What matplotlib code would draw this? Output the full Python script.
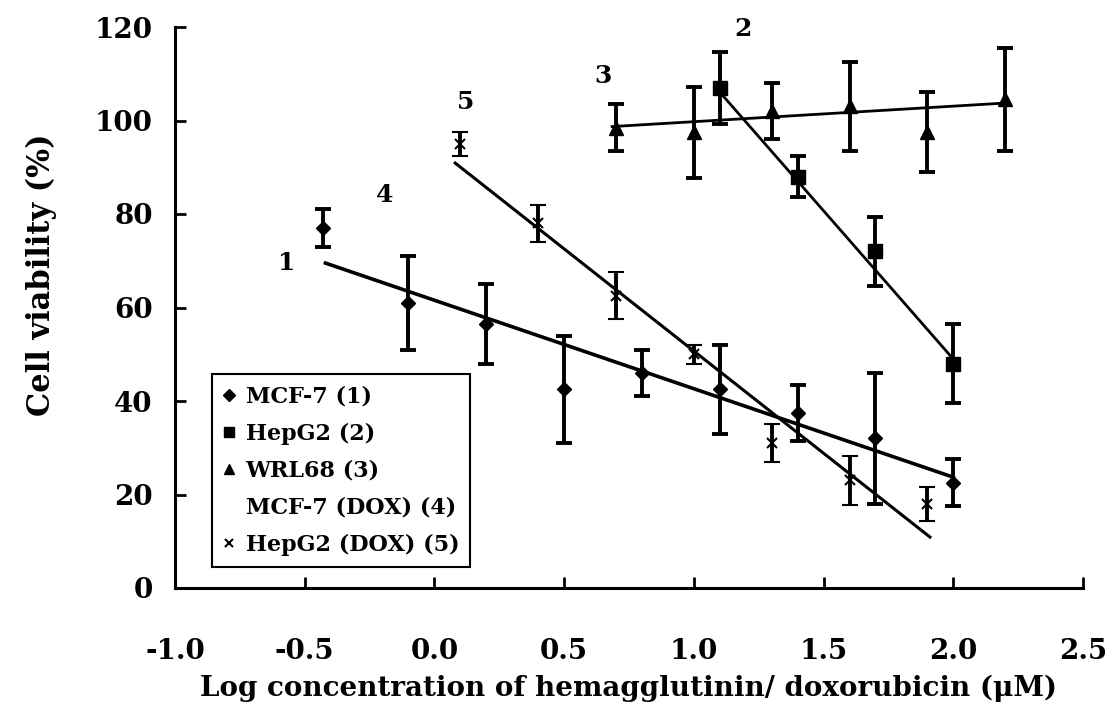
import numpy as np
import matplotlib.pyplot as plt
from matplotlib.lines import Line2D

plt.rcParams['font.family'] = ['DejaVu Serif']
plt.rcParams['font.weight'] = 'bold'

# MCF-7 (1)
mcf7_x = [-0.43, -0.1, 0.2, 0.5, 0.8, 1.1, 1.4, 1.7, 2.0]
mcf7_y = [77.0, 61.0, 56.5, 42.5, 46.0, 42.5, 37.5, 32.0, 22.5]
mcf7_err = [4.0, 10.0, 8.5, 11.5, 5.0, 9.5, 6.0, 14.0, 5.0]
fit1_x = [-0.42, 2.0]
fit1_y = [69.5, 23.7]

# HepG2 (2)
hepg2_x = [1.1, 1.4, 1.7, 2.0]
hepg2_y = [107.0, 88.0, 72.0, 48.0]
hepg2_err = [7.7, 4.3, 7.3, 8.5]
fit2_x = [1.09, 1.99]
fit2_y = [106.7, 49.6]

# WRL68 (3)
wrl_x = [0.7, 1.0, 1.3, 1.6, 1.9, 2.2]
wrl_y = [98.5, 97.5, 102.0, 103.0, 97.5, 104.5]
wrl_err = [5.0, 9.7, 6.0, 9.6, 8.5, 11.0]
fit3_x = [0.685, 2.19]
fit3_y = [98.7, 103.7]

# HepG2 (DOX) (5)
dox_x = [0.1, 0.4, 0.7, 1.0, 1.3, 1.6, 1.9]
dox_y = [95.0, 78.0, 62.5, 50.0, 31.0, 23.0, 18.0]
dox_err = [2.5, 4.0, 5.0, 2.0, 4.0, 5.3, 3.6]
fit5_x = [0.08, 1.91]
fit5_y = [90.9, 10.9]

# curve numbers
num_text = ['1', '2', '3', '4', '5']
num_x = [-0.57, 1.19, 0.65, -0.19, 0.12]
num_y = [69.5, 119.5, 109.5, 84.0, 104.0]

legend_labels = ['MCF-7 (1)', 'HepG2 (2)', 'WRL68 (3)', 'MCF-7 (DOX) (4)', 'HepG2 (DOX) (5)']

fig = plt.figure(figsize=(11.05, 7.07), dpi=100)
ax = fig.add_axes([175 / 1105, 1 - 588 / 707, 908 / 1105, 561 / 707])

eb = dict(color='black', ecolor='black', elinewidth=2.8, capsize=5.5, capthick=2.8, linestyle='none')
ax.errorbar(mcf7_x, mcf7_y, yerr=mcf7_err, marker='D', ms=7.5, **eb)
ax.errorbar(hepg2_x, hepg2_y, yerr=hepg2_err, marker='s', ms=9.5, **eb)
ax.errorbar(wrl_x, wrl_y, yerr=wrl_err, marker='^', ms=9.5, **eb)
ax.errorbar(dox_x, dox_y, yerr=dox_err, marker='x', ms=7, mew=1.5, **eb)

ax.plot(fit1_x, fit1_y, color='black', lw=2.6)
ax.plot(fit2_x, fit2_y, color='black', lw=2.0)
ax.plot(fit3_x, fit3_y, color='black', lw=2.0)
ax.plot(fit5_x, fit5_y, color='black', lw=2.2)

for t, x, y in zip(num_text, num_x, num_y):
    ax.text(x, y, t, fontsize=18, fontweight='bold', ha='center', va='center')

ax.set_xlim(-1.0, 2.5)
ax.set_ylim(0, 120)
ax.set_xticks(np.arange(-1.0, 2.51, 0.5))
ax.set_xticklabels(['-1.0', '-0.5', '0.0', '0.5', '1.0', '1.5', '2.0', '2.5'])
ax.set_yticks(np.arange(0, 121, 20))
ax.spines['top'].set_visible(False)
ax.spines['right'].set_visible(False)
for s in ['left', 'bottom']:
    ax.spines[s].set_linewidth(2.2)
ax.tick_params(direction='in', length=8, width=2, labelsize=20)
ax.tick_params(axis='x', pad=36)
ax.tick_params(axis='y', pad=16)

fig.text(628 / 1105, 1 - 688 / 707, 'Log concentration of hemagglutinin/ doxorubicin (\u03bcM)',
         fontsize=20, fontweight='bold', ha='center', va='center')
fig.text(41 / 1105, 1 - 275 / 707, 'Cell viability (%)', fontsize=22, fontweight='bold',
         ha='center', va='center', rotation=90)

handles = [
    Line2D([], [], color='black', marker='D', ms=6, ls='none'),
    Line2D([], [], color='black', marker='s', ms=7, ls='none'),
    Line2D([], [], color='black', marker='^', ms=7, ls='none'),
    Line2D([], [], color='none', marker='none', ls='none'),
    Line2D([], [], color='black', marker='x', ms=6, mew=1.5, ls='none'),
]
leg = ax.legend(handles, legend_labels, loc='upper left', bbox_to_anchor=(0.041, 0.381),
                borderaxespad=0, fancybox=False, framealpha=1, edgecolor='black',
                prop={'size': 16, 'weight': 'bold'}, handlelength=0.5, handletextpad=0.5,
                labelspacing=0.68, borderpad=0.5)
leg.get_frame().set_linewidth(1.5)

fig.savefig('out.png', dpi=100)
